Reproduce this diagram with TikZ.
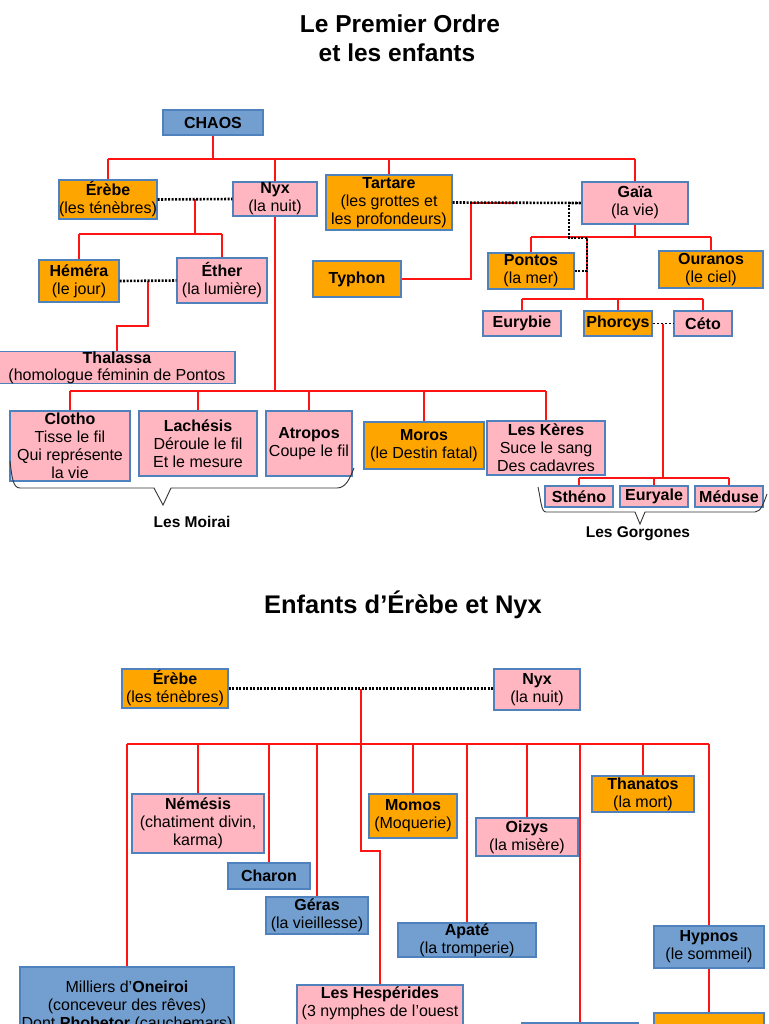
\documentclass[tikz,border=0pt]{standalone}
\usepackage{fontspec}
\setmainfont{Liberation Sans}
\definecolor{orangefill}{RGB}{255,165,0}
\definecolor{pinkfill}{RGB}{255,182,193}
\definecolor{bluefill}{RGB}{114,159,207}
\definecolor{boxborder}{RGB}{79,129,189}
\definecolor{linkred}{RGB}{255,20,20}
\newcommand{\mkbox}[7]{\node[#2, minimum width={(#5)-(#3)}, minimum height={(#6)-(#4)}] (#1) at ({((#3)+(#5))/2},{((#4)+(#6))/2}) {#7};}
\begin{document}
\begin{tikzpicture}[x=1pt,y=-1pt,
  box/.style={draw=boxborder, line width=1.1pt, inner sep=0pt, align=center, text=black, font=\fontsize{16}{18}\selectfont},
  orangebox/.style={box, fill=orangefill},
  pinkbox/.style={box, fill=pinkfill},
  bluebox/.style={box, fill=bluefill},
  redline/.style={draw=linkred, line width=1.5pt},
  dotline/.style={draw=black, line width=2.6pt, dash pattern=on 2pt off 1.5pt},
  dotthin/.style={draw=black, line width=1.8pt, dash pattern=on 2.5pt off 1.5pt},
  bracestyle/.style={draw=black!80, line width=0.9pt},
  titletext/.style={font=\fontsize{24.5}{28}\selectfont\bfseries, inner sep=0pt},
  lbl/.style={font=\fontsize{15.5}{18}\selectfont\bfseries, inner sep=0pt}]
\useasboundingbox[fill=white] (0,0) rectangle (768,1024);

% titles
\node[titletext, anchor=base] (tA) at (400,33) {Le Premier Ordre};
\node[titletext, anchor=base] (tB) at (397,62) {et les enfants};
\node[titletext, font=\fontsize{25.5}{28}\selectfont\bfseries, anchor=base] (tC) at (403,613) {Enfants d’Érèbe et Nyx};

% ---------- section 1 boxes ----------
\mkbox{chaos}{bluebox}{163}{110}{263}{135}{\textbf{CHAOS}}
\mkbox{erebe}{orangebox}{59}{180}{157}{219}{\textbf{Érèbe}\\(les ténèbres)}
\mkbox{nyx}{pinkbox}{233}{182}{317}{216}{\textbf{Nyx}\\(la nuit)}
\mkbox{tartare}{orangebox}{326}{175}{452}{230}{\textbf{Tartare}\\(les grottes et\\les profondeurs)}
\mkbox{gaia}{pinkbox}{582}{182}{688}{224}{\textbf{Gaïa}\\(la vie)}
\mkbox{hemera}{orangebox}{39}{260}{119}{302}{\textbf{Héméra}\\(le jour)}
\mkbox{ether}{pinkbox}{177}{258}{267}{303}{\textbf{Éther}\\(la lumière)}
\mkbox{typhon}{orangebox}{313}{261}{401}{297}{\textbf{Typhon}}
\mkbox{pontos}{orangebox}{488}{253}{574}{289}{\textbf{Pontos}\\(la mer)}
\mkbox{ouranos}{orangebox}{659}{251}{763}{288}{\textbf{Ouranos}\\(le ciel)}
\mkbox{eurybie}{pinkbox}{483}{311}{561}{336}{\textbf{Eurybie}}
\mkbox{phorcys}{orangebox}{584}{311}{652}{336}{\textbf{Phorcys}}
\mkbox{ceto}{pinkbox}{674}{311}{732}{336}{\textbf{Céto}}
\mkbox{thalassa}{pinkbox, font=\fontsize{16}{17}\selectfont}{-1}{352}{235}{383}{\textbf{Thalassa}\\(homologue féminin de Pontos}
\mkbox{clotho}{pinkbox}{10}{411}{130}{481}{\textbf{Clotho}\\Tisse le fil\\Qui représente\\la vie}
\mkbox{lachesis}{pinkbox}{139}{411}{257}{476}{\textbf{Lachésis}\\Déroule le fil\\Et le mesure}
\mkbox{atropos}{pinkbox}{266}{411}{352}{476}{\textbf{Atropos}\\Coupe le fil}
\mkbox{moros}{orangebox}{364}{422}{484}{469}{\textbf{Moros}\\(le Destin fatal)}
\mkbox{keres}{pinkbox}{487}{421}{605}{475}{\textbf{Les Kères}\\Suce le sang\\Des cadavres}
\mkbox{stheno}{pinkbox}{545}{486}{613}{507}{\textbf{Sthéno}}
\mkbox{euryale}{pinkbox}{620}{486}{688}{507}{\textbf{Euryale}}
\mkbox{meduse}{pinkbox}{695}{486}{763}{507}{\textbf{Méduse}}

% ---------- section 1 connectors ----------
\coordinate (b1) at (0,159);
\draw[redline] (chaos.south) -- (chaos.south |- b1);
\draw[redline] (erebe.north |- b1) -- (gaia.north |- b1);
\foreach \n in {erebe,nyx,tartare,gaia} \draw[redline] (\n.north) -- (\n.north |- b1);

\path (erebe.east) -- (nyx.west) coordinate[midway] (en1);
\coordinate (b2) at (0,234);
\draw[redline] (en1) -- (en1 |- b2);
\draw[redline] (hemera.north |- b2) -- (ether.north |- b2);
\foreach \n in {hemera,ether} \draw[redline] (\n.north) -- (\n.north |- b2);

\path (hemera.east) -- (ether.west) coordinate[midway] (he);
\coordinate (t1) at (0,326);
\draw[redline] (he) -- (he |- t1) -| (thalassa.north);

\coordinate (b3) at (0,391);
\draw[redline] (nyx.south) -- (nyx.south |- b3);
\draw[redline] (clotho.north |- b3) -- (keres.north |- b3);
\foreach \n in {clotho,lachesis,atropos,moros,keres} \draw[redline] (\n.north) -- (\n.north |- b3);

\coordinate (tg) at (471,203);
\coordinate (tg2) at (517,203);
\draw[redline] (tg2) -- (tg) |- (typhon.east);

\coordinate (b4) at (0,237);
\draw[redline] (gaia.south) -- (gaia.south |- b4);
\draw[redline] (pontos.north |- b4) -- (ouranos.north |- b4);
\foreach \n in {pontos,ouranos} \draw[redline] (\n.north) -- (\n.north |- b4);

\coordinate (gp1) at (569,238);
\coordinate (gp2) at (587,238);
\coordinate (b5) at (0,299);
\draw[redline] (gp2) -- (gp2 |- b5);
\draw[redline] (eurybie.north |- b5) -- (ceto.north |- b5);
\foreach \n in {eurybie,phorcys,ceto} \draw[redline] (\n.north) -- (\n.north |- b5);

\path (phorcys.east) -- (ceto.west) coordinate[midway] (pc);
\coordinate (b6) at (0,478);
\draw[redline] (pc) -- (pc |- b6);
\draw[redline] (stheno.north |- b6) -- (meduse.north |- b6);
\foreach \n in {stheno,euryale,meduse} \draw[redline] (\n.north) -- (\n.north |- b6);

% unions (dotted)
\draw[dotline] (erebe.east) -- (nyx.west);
\draw[dotline] (hemera.east) -- (ether.west);
\draw[dotline] (tartare.east) -- (gaia.west);
\draw[dotline] (gaia.west) -| (gp1) -- (gp2) |- (pontos.east);
\draw[dotthin] (phorcys.east) -- (ceto.west);

% braces
\draw[bracestyle] (10,461) .. controls (12,478) and (13,488) .. (20,488) -- (154,488) -- (163,505) -- (171,488) -- (337,488) .. controls (346,488) and (350,478) .. (354,468);
\node[lbl, anchor=base] (moirai) at (192,527) {Les Moirai};
\draw[bracestyle] (538,487) .. controls (541,500) and (541,512) .. (546,512) -- (635,512) -- (640,524) -- (645,512) -- (755,512) .. controls (761,512) and (764,502) .. (767,494);
\node[lbl, anchor=base] (gorgones) at (638,537) {Les Gorgones};

% ---------- section 2 boxes ----------
\mkbox{erebeb}{orangebox}{122}{669}{228}{708}{\textbf{Érèbe}\\(les ténèbres)}
\mkbox{nyxb}{pinkbox}{494}{669}{580}{710}{\textbf{Nyx}\\(la nuit)}
\mkbox{nemesis}{pinkbox}{132}{794}{264}{853}{\textbf{Némésis}\\(chatiment divin,\\karma)}
\mkbox{charon}{bluebox}{228}{863}{310}{889}{\textbf{Charon}}
\mkbox{geras}{bluebox}{266}{897}{368}{934}{\textbf{Géras}\\(la vieillesse)}
\mkbox{momos}{orangebox}{369}{794}{457}{838}{\textbf{Momos}\\(Moquerie)}
\mkbox{oizys}{pinkbox}{476}{818}{578}{856}{\textbf{Oizys}\\(la misère)}
\mkbox{thanatos}{orangebox}{592}{776}{694}{812}{\textbf{Thanatos}\\(la mort)}
\mkbox{apate}{bluebox}{398}{923}{536}{957}{\textbf{Apaté}\\(la tromperie)}
\mkbox{hypnos}{bluebox}{654}{926}{764}{968}{\textbf{Hypnos}\\(le sommeil)}
\mkbox{oneiroi}{bluebox}{20}{967}{234}{1045}{Milliers d'\textbf{Oneiroi}\\(conceveur des rêves)\\Dont \textbf{Phobetor} (cauchemars)}
\mkbox{hesperides}{pinkbox}{297}{985}{463}{1060}{\textbf{Les Hespérides}\\(3 nymphes de l'ouest\\\strut\\\strut}
\mkbox{bottomblue}{bluebox}{522}{1023}{638}{1060}{}
\mkbox{bottomorange}{orangebox}{654}{1013}{764}{1060}{}

% ---------- section 2 connectors ----------
\path (erebeb.east) -- (erebeb.east -| nyxb.west) coordinate[midway] (en2);
\coordinate (b7) at (0,744);
\coordinate (h1) at (0,851);
\draw[redline] (en2) -- (en2 |- h1) -| (hesperides.north);
\draw[redline] (oneiroi.north |- b7) -- (hypnos.north |- b7);
\foreach \n in {oneiroi,nemesis,charon,geras,momos,apate,oizys,bottomblue,thanatos,hypnos} \draw[redline] (\n.north) -- (\n.north |- b7);
\draw[redline] (hypnos.south) -- (bottomorange.north);
\draw[dotline] (erebeb.east) -- (erebeb.east -| nyxb.west);
\end{tikzpicture}
\end{document}
